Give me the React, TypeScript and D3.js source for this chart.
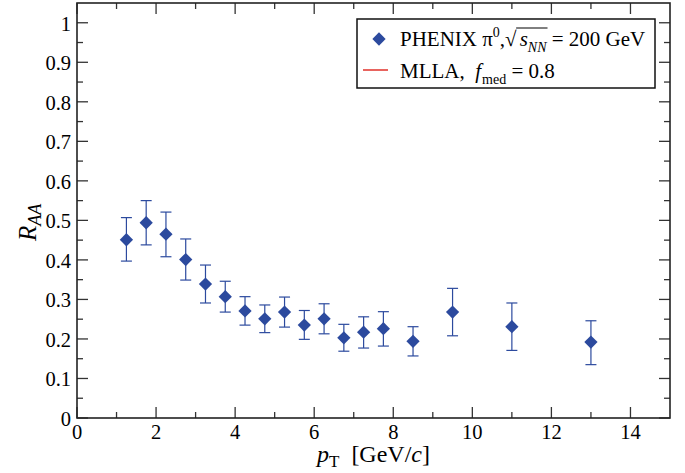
import React, { useEffect, useRef } from "react";
import * as d3 from "d3";

const pt = [1.25, 1.75, 2.25, 2.75, 3.25, 3.75, 4.25, 4.75, 5.25, 5.75, 6.25, 6.75, 7.25, 7.75, 8.5, 9.5, 11, 13];
const raa = [0.451, 0.494, 0.465, 0.401, 0.339, 0.307, 0.271, 0.251, 0.268, 0.235, 0.251, 0.203, 0.217, 0.226, 0.194, 0.268, 0.231, 0.192];
const errHi = [0.507, 0.55, 0.521, 0.453, 0.387, 0.346, 0.307, 0.286, 0.306, 0.272, 0.289, 0.237, 0.256, 0.269, 0.231, 0.328, 0.291, 0.246];
const errLo = [0.397, 0.438, 0.408, 0.349, 0.291, 0.268, 0.235, 0.216, 0.23, 0.199, 0.213, 0.169, 0.177, 0.182, 0.157, 0.208, 0.171, 0.135];
const xMajor = [0, 2, 4, 6, 8, 10, 12, 14];
const xMinor = [1, 3, 5, 7, 9, 11, 13];
const yMajor = [0, 0.1, 0.2, 0.3, 0.4, 0.5, 0.6, 0.7, 0.8, 0.9, 1];
const yMinor = [0.05, 0.15, 0.25, 0.35, 0.45, 0.55, 0.65, 0.75, 0.85, 0.95];

const W = 685, H = 473;
const BLUE = "#2c4a9e";
const RED = "#e0302a";
const FONT = "'Liberation Serif', 'Times New Roman', serif";

export default function App() {
  const ref = useRef<SVGSVGElement>(null);
  useEffect(() => {
    const svg = d3.select(ref.current);
    svg.selectAll("*").remove();
    const x = d3.scaleLinear().domain([0, 15]).range([77, 670]);
    const y = d3.scaleLinear().domain([0, 1.05]).range([418, 3]);
    const [xl, xr] = x.range();
    const [yb, yt] = y.range();

    const g = svg.append("g");
    const tickCol = "#333";
    const tick = (x1: number, y1: number, x2: number, y2: number) =>
      g.append("line").attr("x1", x1).attr("y1", y1).attr("x2", x2).attr("y2", y2)
        .attr("stroke", tickCol).attr("stroke-width", 1.3);
    xMajor.forEach(v => { tick(x(v), yb, x(v), yb - 11); tick(x(v), yt, x(v), yt + 11); });
    xMinor.forEach(v => { tick(x(v), yb, x(v), yb - 6); tick(x(v), yt, x(v), yt + 6); });
    yMajor.forEach(v => { tick(xl, y(v), xl + 11, y(v)); tick(xr, y(v), xr - 11, y(v)); });
    yMinor.forEach(v => { tick(xl, y(v), xl + 6, y(v)); tick(xr, y(v), xr - 6, y(v)); });

    g.append("rect").attr("x", xl).attr("y", yt).attr("width", xr - xl).attr("height", yb - yt)
      .attr("fill", "none").attr("stroke", "#222").attr("stroke-width", 1.6);

    xMajor.forEach(v => {
      g.append("text").attr("x", x(v)).attr("y", yb + 20.5).attr("text-anchor", "middle")
        .attr("font-family", FONT).attr("font-size", 20.5).text(String(v));
    });
    yMajor.forEach(v => {
      g.append("text").attr("x", xl - 6).attr("y", y(v) + 8).attr("text-anchor", "end")
        .attr("font-family", FONT).attr("font-size", 20.5).text(v === 0 || v === 1 ? String(v) : v.toFixed(1));
    });

    const TF = 24;
    const xt = g.append("text").attr("x", x(7.5)).attr("y", 462).attr("text-anchor", "middle")
      .attr("font-family", FONT).attr("font-size", TF).style("white-space", "pre");
    xt.append("tspan").attr("font-style", "italic").text("p");
    xt.append("tspan").attr("font-size", 17).attr("dy", 5).text("T");
    xt.append("tspan").attr("dy", -5).text("  [GeV/");
    xt.append("tspan").attr("font-style", "italic").text("c");
    xt.append("tspan").text("]");

    const yt2 = g.append("text").attr("transform", `translate(36, ${y(0.5) + 2}) rotate(-90)`)
      .attr("text-anchor", "middle").attr("font-family", FONT).attr("font-size", 25);
    yt2.append("tspan").attr("font-style", "italic").text("R");
    yt2.append("tspan").attr("font-style", "italic").attr("font-size", 18).attr("dy", 5).text("AA");

    const cap = 5.5;
    pt.forEach((p, i) => {
      const cx = x(p);
      g.append("line").attr("x1", cx).attr("x2", cx).attr("y1", y(errLo[i])).attr("y2", y(errHi[i]))
        .attr("stroke", BLUE).attr("stroke-width", 1.2);
      [errLo[i], errHi[i]].forEach(e => {
        g.append("line").attr("x1", cx - cap).attr("x2", cx + cap).attr("y1", y(e)).attr("y2", y(e))
          .attr("stroke", BLUE).attr("stroke-width", 1.2);
      });
    });
    const sym = d3.symbol().type(d3.symbolSquare).size(88);
    pt.forEach((p, i) => {
      g.append("path").attr("d", sym()!).attr("fill", BLUE)
        .attr("transform", `translate(${x(p)},${y(raa[i])}) rotate(45)`);
    });

    // legend
    const lg = svg.append("g");
    lg.append("rect").attr("x", 357).attr("y", 19).attr("width", 298).attr("height", 69)
      .attr("fill", "white").attr("stroke", "#111").attr("stroke-width", 1.5);
    lg.append("path").attr("d", sym()!).attr("fill", BLUE).attr("transform", "translate(379,39) rotate(45)");
    lg.append("line").attr("x1", 363).attr("x2", 388).attr("y1", 70).attr("y2", 70).attr("stroke", RED).attr("stroke-width", 1.5);

    const F = 21;
    const SF = 14;
    let cx = 400;
    const piece = (txt: string, base: number, opts: { size?: number; italic?: boolean; dy?: number } = {}) => {
      const t = lg.append("text").attr("x", cx).attr("y", base + (opts.dy || 0))
        .attr("font-family", FONT).attr("font-size", opts.size || F)
        .attr("font-style", opts.italic ? "italic" : "normal")
        .style("white-space", "pre").text(txt);
      const w = (t.node() as SVGTextElement).getComputedTextLength();
      const start = cx;
      cx += w;
      return { start, end: cx };
    };
    const b1 = 46;
    piece("PHENIX \u03c0", b1);
    piece("0", b1, { size: SF, dy: -9 });
    piece(",", b1);
    const sq = piece("\u221a", b1);
    cx += 3;
    piece("s", b1, { italic: true });
    const nn = piece("NN", b1, { size: SF, italic: true, dy: 6 });
    lg.append("line").attr("x1", sq.end - 0.5).attr("x2", nn.end + 1).attr("y1", b1 - 18).attr("y2", b1 - 18)
      .attr("stroke", "#000").attr("stroke-width", 1);
    piece(" = 200 GeV", b1);

    cx = 400;
    const b2 = 78;
    piece("MLLA,  ", b2);
    piece("f", b2, { italic: true });
    cx += 1;
    piece("med", b2, { size: SF, dy: 6 });
    piece(" = 0.8", b2);
  }, []);
  return (
    <svg ref={ref} width={W} height={H} style={{ position: "absolute", left: 0, top: 0, background: "white" }} />
  );
}
